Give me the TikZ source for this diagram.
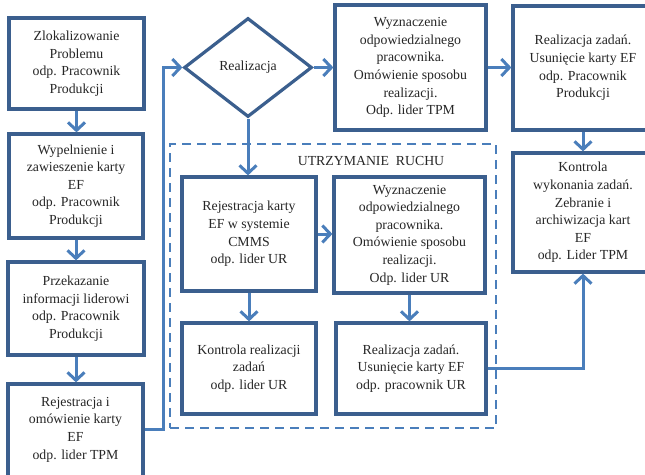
\documentclass[tikz,border=0pt]{standalone}
\usepackage{fontspec}
\setmainfont{Liberation Serif}
\usetikzlibrary{shapes.geometric,arrows.meta}
\definecolor{boxblue}{HTML}{3B5F8E}
\definecolor{arrblue}{HTML}{4A7EBB}
\tikzset{
  fbox/.style={draw=boxblue, line width=3.2pt, fill=white, rectangle, inner sep=0pt, align=center,
    font=\fontsize{13.8}{17.6}\selectfont, text=black!85},
  dbox/.style={draw=boxblue, line width=3.2pt, fill=white, diamond, inner sep=0pt, align=center,
    font=\fontsize{13.8}{17.6}\selectfont, text=black!85},
  arr/.style={draw=arrblue, line width=3pt, -{Straight Barb[length=8pt,width=17pt]}},
  urframe/.style={draw=arrblue, line width=2.6pt, dash pattern=on 9pt off 6pt},
  lbl/.style={font=\fontsize{13.8}{17.6}\selectfont, text=black!85, inner sep=0pt}
}
\begin{document}
\begin{tikzpicture}[x=1pt,y=-1pt]
\clip (0,0) rectangle (645,474);
\fill[white] (0,0) rectangle (645,474);
% dashed frame
\node[urframe, rectangle, minimum width=326pt, minimum height=284pt, inner sep=0pt] (frame) at (333,286) {};
\node[lbl] (frametitle) at (371,161) {UTRZYMANIE\ \ RUCHU};
% left column
\node[fbox, minimum width=135pt, minimum height=91pt] (b1) at (76.5,63.5)
  {Zlokalizowanie\\Problemu\\odp. Pracownik\\Produkcji};
\node[fbox, minimum width=134pt, minimum height=104pt] (b2) at (76,186)
  {Wypelnienie i\\zawieszenie karty\\EF\\odp. Pracownik\\Produkcji};
\node[fbox, minimum width=136pt, minimum height=93pt] (b3) at (76,308.5)
  {Przekazanie\\informacji liderowi\\odp. Pracownik\\Produkcji};
\node[fbox, minimum width=135pt, minimum height=98pt] (b4) at (75.5,433)
  {Rejestracja i\\omówienie karty\\EF\\odp. lider TPM\\[-8pt]};
% decision
\node[dbox, minimum width=128pt, minimum height=99pt] (d) at (248,67.5) {Realizacja};
% TPM path
\node[fbox, minimum width=151pt, minimum height=125pt] (t1) at (410.5,67.5)
  {Wyznaczenie\\odpowiedzialnego\\pracownika.\\Omówienie sposobu\\realizacji.\\Odp. lider TPM};
\node[fbox, minimum width=140pt, minimum height=124pt] (t2) at (583,68)
  {Realizacja zadań.\\Usunięcie karty EF\\odp. Pracownik\\Produkcji};
\node[fbox, minimum width=140pt, minimum height=119pt] (k) at (583,212.5)
  {Kontrola\\wykonania zadań.\\Zebranie i\\archiwizacja kart\\EF\\odp. Lider TPM};
% UR path
\node[fbox, minimum width=134pt, minimum height=114pt] (u1) at (249,234)
  {Rejestracja karty\\EF w systemie\\CMMS\\odp. lider UR};
\node[fbox, minimum width=151pt, minimum height=116pt] (u2) at (409.5,235)
  {Wyznaczenie\\odpowiedzialnego\\pracownika.\\Omówienie sposobu\\realizacji.\\Odp. lider UR};
\node[fbox, minimum width=134pt, minimum height=91pt] (u3) at (249,368.5)
  {Kontrola realizacji\\zadań\\odp. lider UR};
\node[fbox, minimum width=150pt, minimum height=91pt] (u4) at (411,368.5)
  {Realizacja zadań.\\Usunięcie karty EF\\odp. pracownik UR};
% connectors
\draw[arr] (b1.south) -- (b1.south |- b2.north);
\draw[arr] (b2.south) -- (b2.south |- b3.north);
\draw[arr] (b3.south) -- (b3.south |- b4.north);
\coordinate (c1) at (163,429);
\draw[arr] (b4.east |- c1) -- (c1) |- (d.west);
\draw[arr] (d.east) -- (t1.west);
\draw[arr] (t1.east) -- (t2.west |- t1.east);
\draw[arr] (t2.south) -- (k.north);
\draw[arr] (d.south) -- (d.south |- u1.north);
\draw[arr] (u1.east) -- (u2.west |- u1.east);
\draw[arr] (u1.south) -- (u1.south |- u3.north);
\draw[arr] (u2.south) -- (u2.south |- u4.north);
\draw[arr] (u4.east) -| (k.south);
\end{tikzpicture}
\end{document}
